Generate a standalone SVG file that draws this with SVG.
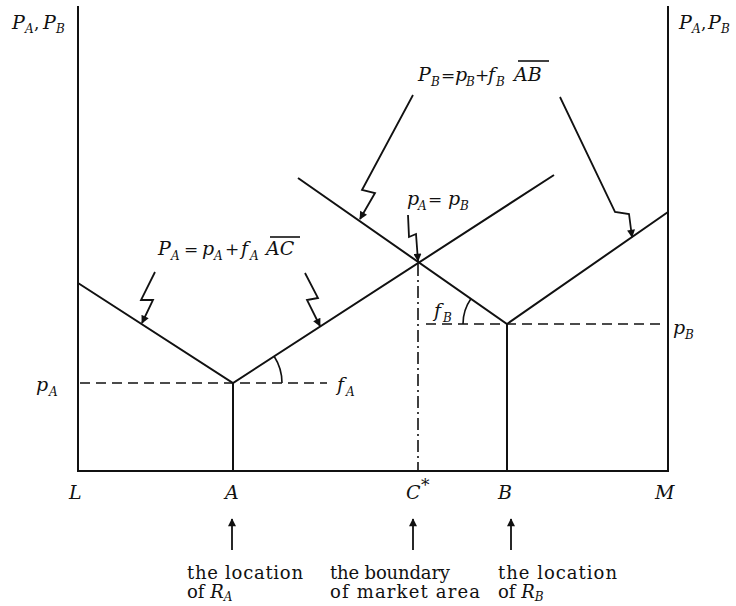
<svg xmlns="http://www.w3.org/2000/svg" width="736" height="606" viewBox="0 0 736 606">
<style>
text{font-family:"DejaVu Serif","Liberation Serif",serif;fill:#111}
.m{font-style:italic;font-size:19px}
.s{font-style:italic;font-size:12px}
.r{font-size:17px}
.t{font-size:18px}
.ln{stroke:#111;stroke-width:2;fill:none}
.ax{stroke:#111;stroke-width:2;fill:none}
.dash{stroke:#111;stroke-width:1.6;fill:none;stroke-dasharray:10 6}
.dd{stroke:#111;stroke-width:1.6;fill:none;stroke-dasharray:12 4 2 4}
.ar{stroke:#111;stroke-width:1.8;fill:none;marker-end:url(#ah)}
.arc{stroke:#111;stroke-width:1.6;fill:none}
</style>
<defs>
<marker id="ah" viewBox="0 0 10 10" refX="9" refY="5" markerWidth="9" markerHeight="8" markerUnits="userSpaceOnUse" orient="auto">
<path d="M0,0 L10,5 L0,10 z" fill="#111"/>
</marker>
</defs>
<g id="axes">
<path class="ax" d="M78,6 V471 H668 V6"/>
</g>
<g id="connectors">
<path class="ln" d="M78,283 L233,383 L554,175"/>
<path class="ln" d="M298,178 L507,324 L668,212"/>
<path class="ln" d="M233,383 V471 M507,324 V471"/>
<path class="dash" d="M80,383 H327"/>
<path class="dash" d="M426,324 H666"/>
<path class="dd" d="M418,264 V470"/>
<path class="arc" d="M282,383 A49,49 0 0 0 274.1,356.3"/>
<path class="arc" d="M463,324 A44,44 0 0 1 470.9,298.8"/>
<polyline class="ar" points="155,272 141,300 153,300 142,323"/>
<polyline class="ar" points="305,273 318,298 307,300 320,326"/>
<polyline class="ar" points="413,95 362,190 375,193 360,219"/>
<polyline class="ar" points="408,215 409,237 416,234 418,261"/>
<polyline class="ar" points="560,97 615,212 629,214 632,237"/>
<path class="ar" d="M232,550 V519"/>
<path class="ar" d="M413,550 V519"/>
<path class="ar" d="M511,550 V519"/>
</g>
<g id="axis-label-left">
<text class="m" x="12" y="29">P</text><text class="s" x="25" y="33">A</text><text class="r" x="34" y="29">,</text>
<text class="m" x="43" y="29">P</text><text class="s" x="56" y="33">B</text>
</g>
<g id="axis-label-right">
<text class="m" x="679" y="29">P</text><text class="s" x="692" y="33">A</text><text class="r" x="701" y="29">,</text>
<text class="m" x="708" y="29">P</text><text class="s" x="721" y="33">B</text>
</g>
<g id="formula-PB">
<text class="m" x="418" y="81">P</text><text class="s" x="431" y="86">B</text>
<text class="r" x="441" y="81">=</text>
<text class="m" x="455" y="81">p</text><text class="s" x="466" y="86">B</text>
<text class="r" x="475" y="81">+</text>
<text class="m" x="488" y="81">f</text><text class="s" x="496" y="86">B</text>
<text class="m" x="514" y="81" font-size="20">AB</text>
<path class="arc" d="M518,61 H549"/>
</g>
<g id="formula-PA">
<text class="m" x="158" y="255">P</text><text class="s" x="171" y="260">A</text>
<text class="r" x="184" y="255">=</text>
<text class="m" x="202" y="255">p</text><text class="s" x="214" y="260">A</text>
<text class="r" x="225" y="255">+</text>
<text class="m" x="241" y="255">f</text><text class="s" x="250" y="260">A</text>
<text class="m" x="266" y="255" font-size="20">AC</text>
<path class="arc" d="M270,237 H300"/>
</g>
<g id="label-equal">
<text class="m" x="407" y="205">p</text><text class="s" x="418" y="210">A</text>
<text class="r" x="428" y="205">=</text>
<text class="m" x="448" y="205">p</text><text class="s" x="460" y="210">B</text>
</g>
<g id="label-fA"><text class="m" x="337" y="391">f</text><text class="s" x="346" y="396">A</text></g>
<g id="label-fB"><text class="m" x="434" y="317">f</text><text class="s" x="443" y="322">B</text></g>
<g id="label-pA"><text class="m" x="36" y="391">p</text><text class="s" x="49" y="396">A</text></g>
<g id="label-pB"><text class="m" x="673" y="334">p</text><text class="s" x="685" y="339">B</text></g>
<g id="ticks">
<text class="m" x="69" y="499">L</text>
<text class="m" x="225" y="499">A</text>
<text class="m" x="406" y="499">C</text><text class="r" x="421" y="491">*</text>
<text class="m" x="498" y="499">B</text>
<text class="m" x="655" y="499">M</text>
</g>
<g id="caption-A">
<text class="t" x="187" y="579" textLength="116" lengthAdjust="spacing">the location</text>
<text class="t" x="187" y="598">of <tspan font-style="italic">R</tspan><tspan font-style="italic" font-size="12" dy="3">A</tspan></text>
</g>
<g id="caption-C">
<text class="t" x="330" y="579" textLength="120" lengthAdjust="spacing">the boundary</text>
<text class="t" x="330" y="598" textLength="150" lengthAdjust="spacing">of market area</text>
</g>
<g id="caption-B">
<text class="t" x="498" y="579" textLength="119" lengthAdjust="spacing">the location</text>
<text class="t" x="498" y="598">of <tspan font-style="italic">R</tspan><tspan font-style="italic" font-size="12" dy="3">B</tspan></text>
</g>
</svg>
